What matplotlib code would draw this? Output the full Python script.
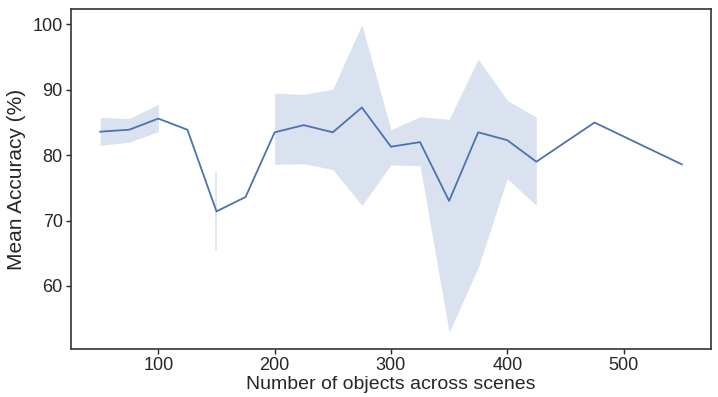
import numpy as np
import matplotlib
matplotlib.use("Agg")
import matplotlib.pyplot as plt

# number of objects per scene group
n_objects = [50, 75, 100, 125, 150, 175, 200, 225, 250, 275, 300, 325, 350, 375, 400, 425, 475, 550]
mean_acc = [83.6, 83.9, 85.6, 83.9, 71.4, 73.6, 83.5, 84.6, 83.5, 87.3, 81.3, 82.0, 73.0, 83.5, 82.3, 79.0, 85.0, 78.6]
# confidence band (nan where only one sample)
ci_low = [81.5, 82.0, 83.6, np.nan, 65.3, np.nan, 78.6, 78.7, 77.8, 72.3, 78.5, 78.4, 52.9, 62.8, 76.4, 72.3, np.nan, np.nan]
ci_high = [85.8, 85.6, 87.8, np.nan, 77.5, np.nan, 89.5, 89.3, 90.1, 100.0, 83.9, 85.9, 85.5, 94.7, 88.4, 85.8, np.nan, np.nan]

color = '#4C72B0'
plt.rcParams['font.family'] = ['Liberation Sans', 'DejaVu Sans']

fig = plt.figure(figsize=(7.18, 3.97), dpi=100)
ax = fig.add_axes([0.099, 0.121, 0.891, 0.856])

x = np.array(n_objects, dtype=float)
lo = np.array(ci_low)
hi = np.array(ci_high)

# contiguous band segments; single points become thin vertical lines
i = 0
while i < len(x):
    if np.isnan(lo[i]):
        i += 1
        continue
    j = i
    while j + 1 < len(x) and not np.isnan(lo[j + 1]):
        j += 1
    if j == i:
        ax.vlines(x[i], lo[i], hi[i], color=color, alpha=0.2, lw=1.2)
    else:
        ax.fill_between(x[i:j + 1], lo[i:j + 1], hi[i:j + 1], color=color, alpha=0.2, lw=0)
    i = j + 1

ax.plot(x, mean_acc, color=color, lw=1.3)

ax.set_xlim(25, 575)
ax.set_ylim(50.35, 102.35)
ax.set_xticks([100, 200, 300, 400, 500])
ax.set_yticks([60, 70, 80, 90, 100])
ax.set_xlabel("Number of objects across scenes", fontsize=14, color='#262626', labelpad=1.5)
ax.set_ylabel("Mean Accuracy (%)", fontsize=15, color='#262626', labelpad=5)
ax.tick_params(labelsize=13, colors='#262626', length=3.5, width=1, pad=2.5)
for s in ax.spines.values():
    s.set_color('#333333')
    s.set_linewidth(1.2)

fig.savefig("out.png", dpi=100)
